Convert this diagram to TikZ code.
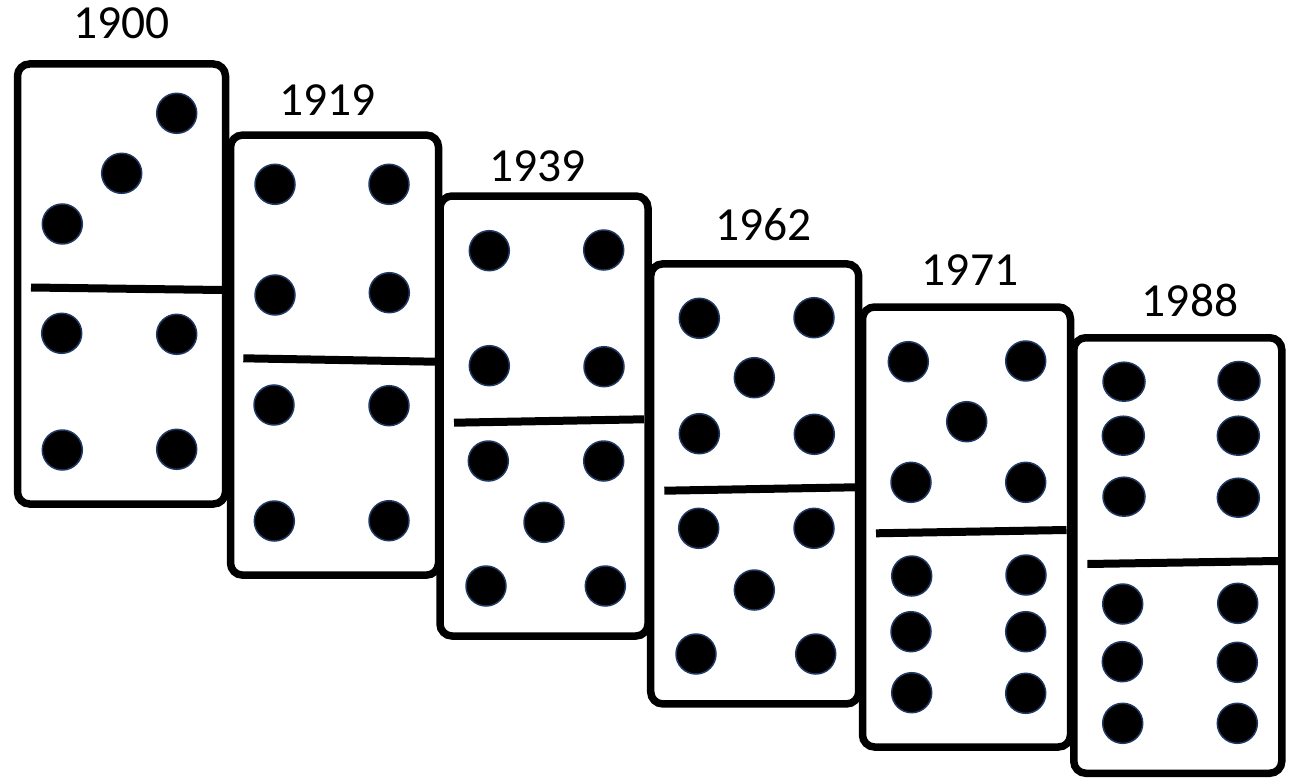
\documentclass[tikz,border=0pt]{standalone}
\usepackage{fontspec}
\setmainfont{Carlito}
\usetikzlibrary{shapes.geometric}
\definecolor{pipblue}{HTML}{1F3864}
\begin{document}
\begin{tikzpicture}[x=1pt,y=-1pt,
  tile/.style={draw=black, line width=7.5pt, fill=white, rounded corners=12pt,
    rectangle, minimum width=208pt, minimum height=440pt, inner sep=0pt, outer sep=0pt},
  pip/.style={circle, fill=black, draw=pipblue, line width=1.5pt, minimum size=40pt, inner sep=0pt},
  wpip/.style={ellipse, fill=black, draw=pipblue, line width=1.5pt, minimum width=42pt, minimum height=39pt, inner sep=0pt},
  divider/.style={draw=black, line width=8pt},
  year/.style={font=\fontsize{47.5}{52}\selectfont, inner sep=0pt, text=black}]
\useasboundingbox (0,0) rectangle (1297,778);

% ---- Domino 1 : 1900 (3 | 4)
\node[tile] (t1) at (121.5,284) {};
\node[year] (y1) at (121.7,23.3) {1900};
\node[pip] (p1a) at (176.7,113.3) {};
\node[pip] (p1b) at (121.7,173.3) {};
\node[pip] (p1c) at (62.3,224) {};
\coordinate (d1l) at (31,287.5);
\coordinate (d1r) at (222,290);
\draw[divider] (d1l) -- (d1r);
\node[pip] (p1d) at (61.7,333.3) {};
\node[pip] (p1e) at (176.7,334.3) {};
\node[pip] (p1f) at (62.3,450) {};
\node[pip] (p1g) at (176.7,449.3) {};

% ---- Domino 2 : 1919 (4 | 4)
\node[tile] (t2) at (334.5,355.1) {};
\node[year] (y2) at (327.7,100) {1919};
\node[pip] (p2a) at (275,184.3) {};
\node[pip] (p2b) at (389,184.3) {};
\node[pip] (p2c) at (275,295) {};
\node[pip] (p2d) at (389.3,292.7) {};
\coordinate (d2l) at (243.3,358.3);
\coordinate (d2r) at (435,361.7);
\draw[divider] (d2l) -- (d2r);
\node[pip] (p2e) at (274,405) {};
\node[pip] (p2f) at (389,405.7) {};
\node[pip] (p2g) at (274.3,521) {};
\node[pip] (p2h) at (389,520.7) {};

% ---- Domino 3 : 1939 (4 | 5)
\node[tile] (t3) at (544,416) {};
\node[year] (y3) at (537.3,166.7) {1939};
\node[pip] (p3a) at (489.3,250.7) {};
\node[pip] (p3b) at (603.7,250) {};
\node[pip] (p3c) at (489.3,365.7) {};
\node[pip] (p3d) at (604,366.7) {};
\coordinate (d3l) at (454,422.7);
\coordinate (d3r) at (644,419.3);
\draw[divider] (d3l) -- (d3r);
\node[pip] (p3e) at (488.3,461) {};
\node[pip] (p3f) at (603.7,461) {};
\node[pip] (p3g) at (544,522.3) {};
\node[pip] (p3h) at (486,586) {};
\node[pip] (p3i) at (605.3,586) {};

% ---- Domino 4 : 1962 (5 | 5)
\node[tile] (t4) at (754.7,483.9) {};
\node[year] (y4) at (763.3,225) {1962};
\node[pip] (p4a) at (699.3,318.3) {};
\node[pip] (p4b) at (814,317.7) {};
\node[pip] (p4c) at (754.3,377.7) {};
\node[pip] (p4d) at (699.3,433.7) {};
\node[pip] (p4e) at (814.3,434.3) {};
\coordinate (d4l) at (664.3,490.7);
\coordinate (d4r) at (855,487.3);
\draw[divider] (d4l) -- (d4r);
\node[pip] (p4f) at (698.7,528.3) {};
\node[pip] (p4g) at (814,528.3) {};
\node[pip] (p4h) at (754.3,590) {};
\node[pip] (p4i) at (696,654) {};
\node[pip] (p4j) at (815.7,654) {};

% ---- Domino 5 : 1971 (5 | 6)
\node[tile] (t5) at (966.5,527) {};
\node[year] (y5) at (970,270) {1971};
\node[pip] (p5a) at (908.3,361.7) {};
\node[pip] (p5b) at (1025.7,361) {};
\node[pip] (p5c) at (966.7,421.7) {};
\node[pip] (p5d) at (911,482.3) {};
\node[pip] (p5e) at (1025.7,482.3) {};
\coordinate (d5l) at (876,533.3);
\coordinate (d5r) at (1066.5,530);
\draw[divider] (d5l) -- (d5r);
\node[pip] (p5f) at (911.7,576) {};
\node[pip] (p5g) at (1026,575) {};
\node[pip] (p5h) at (911,631.7) {};
\node[pip] (p5i) at (1025.7,631.7) {};
\node[pip] (p5j) at (911.7,692.7) {};
\node[pip] (p5k) at (1025.7,693.3) {};

% ---- Domino 6 : 1988 (6 | 6)
\node[tile, minimum height=435.5pt] (t6) at (1177.8,555.5) {};
\node[year] (y6) at (1190,300) {1988};
\node[wpip] (p6a) at (1124,381.7) {};
\node[wpip] (p6b) at (1239,381) {};
\node[wpip] (p6c) at (1123.3,435.7) {};
\node[wpip] (p6d) at (1238.3,435.7) {};
\node[wpip] (p6e) at (1124,496.7) {};
\node[wpip] (p6f) at (1238.3,497.7) {};
\coordinate (d6l) at (1087.3,564);
\coordinate (d6r) at (1278,561);
\draw[divider] (d6l) -- (d6r);
\node[pip] (p6g) at (1122.7,604) {};
\node[pip] (p6h) at (1237.7,603.3) {};
\node[pip] (p6i) at (1122.3,661.7) {};
\node[pip] (p6j) at (1237.3,662.3) {};
\node[pip] (p6k) at (1122.7,723.3) {};
\node[pip] (p6l) at (1237.3,723.3) {};
\end{tikzpicture}
\end{document}
